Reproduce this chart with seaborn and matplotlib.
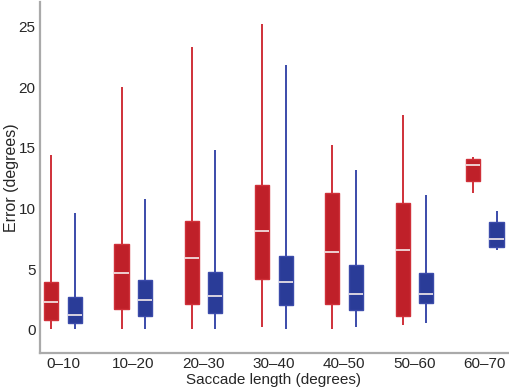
import matplotlib
matplotlib.use("Agg")
import matplotlib.pyplot as plt
import seaborn as sns
import pandas as pd

# five-number summaries, one list per statistic
groups = ["0–10", "10–20", "20–30", "30–40", "40–50", "50–60", "60–70"]

red_min = [0.05, 0.05, 0.05, 0.27, 0.05, 0.38, 11.3]
red_q1 = [0.80, 1.76, 2.17, 4.20, 2.15, 1.18, 12.3]
red_med = [2.30, 4.65, 5.89, 8.14, 6.38, 6.55, 13.6]
red_q3 = [3.93, 7.04, 8.94, 11.9, 11.3, 10.48, 14.05]
red_max = [14.4, 20.0, 23.3, 25.2, 15.2, 17.7, 14.25]

blue_min = [0.05, 0.05, 0.05, 0.05, 0.27, 0.55, 6.6]
blue_q1 = [0.55, 1.16, 1.43, 2.09, 1.65, 2.26, 6.87]
blue_med = [1.20, 2.50, 2.80, 3.93, 3.00, 3.00, 7.53]
blue_q3 = [2.75, 4.15, 4.81, 6.10, 5.36, 4.73, 8.85]
blue_max = [9.6, 10.8, 14.8, 21.8, 13.2, 11.1, 9.8]

RED = "#BF2029"
BLUE = "#2A3C98"
RED_LINE = "#CF3039"
BLUE_LINE = "#3B4BAA"
kinds = ["red", "blue"]


def build_rows(kind, mins, q1s, meds, q3s, maxs):
    rows = []
    for i, g in enumerate(groups):
        for v in (mins[i], q1s[i], meds[i], q3s[i], maxs[i]):
            rows.append({"group": g, "kind": kind, "error": v})
    return rows


df = pd.DataFrame(build_rows("red", red_min, red_q1, red_med, red_q3, red_max)
                  + build_rows("blue", blue_min, blue_q1, blue_med, blue_q3, blue_max))

sns.set_style("white")
plt.rcParams['font.family'] = ['Liberation Sans', 'DejaVu Sans']

fig = plt.figure(figsize=(5.1, 3.91), dpi=100)
ax = fig.add_axes([0.078, 0.097, 0.918, 0.898])

sns.boxplot(data=df, x="group", y="error", hue="kind", hue_order=kinds, order=groups,
            palette={"red": RED, "blue": BLUE}, saturation=1,
            width=0.67, gap=0.4, whis=(0, 100), showcaps=False,
            linewidth=1.0, legend=False, ax=ax,
            medianprops=dict(color="#F6ECEC", linewidth=1.2))

# recolour line elements per hue (left of category centre = red, right = blue)
for ln in ax.lines:
    xs = ln.get_xdata()
    if len(xs) == 0:
        continue
    xm = sum(xs) / len(xs)
    is_red = xm - round(xm) < 0
    if xs[0] == xs[-1]:
        ln.set_color(RED_LINE if is_red else BLUE_LINE)
        ln.set_linewidth(1.4)
for p in ax.patches:
    fc = p.get_facecolor()
    is_red = fc[0] > fc[2]
    p.set_edgecolor(RED_LINE if is_red else BLUE_LINE)

ax.set_xlim(-0.33, 6.33)
ax.set_ylim(-1.9, 27)
ax.set_yticks([0, 5, 10, 15, 20, 25])
ax.set_xlabel("Saccade length (degrees)", fontsize=11, labelpad=1)
ax.set_ylabel("Error (degrees)", fontsize=11.5, labelpad=0)
ax.tick_params(axis="both", length=0, labelsize=11, pad=3)
for s in ["top", "right"]:
    ax.spines[s].set_visible(False)
for s in ["left", "bottom"]:
    ax.spines[s].set_color("#AAAAAA")
    ax.spines[s].set_linewidth(1.6)

fig.savefig("out.png", dpi=100)
